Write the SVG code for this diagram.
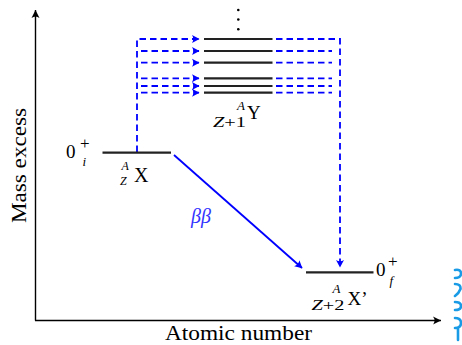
<svg xmlns="http://www.w3.org/2000/svg" width="462" height="345" viewBox="0 0 462 345">
<style>
.axis{stroke:#000;stroke-width:1.4;fill:none}
.lvl{stroke:#222;stroke-width:2.2;fill:none}
.dash{stroke:#0000ff;stroke-width:1.8;fill:none;stroke-dasharray:6.5 4}
.t{font-family:"Liberation Serif","Times New Roman",serif;fill:#000}
.it{font-style:italic}
.wm{stroke:#1a9be6;stroke-width:2.6;fill:none;stroke-linecap:round}
</style>
<defs>
<marker id="ax" viewBox="-10 -5 11 10" refX="0" refY="0" markerWidth="11" markerHeight="10" markerUnits="userSpaceOnUse" orient="auto">
<path d="M0,0 L-8,-4 Q-5,0 -8,4 Z" fill="#000"/>
</marker>
<marker id="bl" viewBox="-10 -5 11 10" refX="0" refY="0" markerWidth="11" markerHeight="10" markerUnits="userSpaceOnUse" orient="auto">
<path d="M0.5,0 L-7,-4 Q-4.5,0 -7,4 Z" fill="#0000ff"/>
</marker>
</defs>

<g id="axes">
<path class="axis" d="M35.5,320.5 V10" marker-end="url(#ax)"/>
<path class="axis" d="M35,320.5 H441" marker-end="url(#ax)"/>
<text class="t" font-size="20" textLength="147" lengthAdjust="spacingAndGlyphs" x="165" y="340">Atomic number</text>
<text class="t" font-size="21" textLength="115" lengthAdjust="spacingAndGlyphs" transform="translate(26,223) rotate(-90)">Mass excess</text>
</g>

<g id="connectors">
<path class="dash" d="M137,152 V39 H199" marker-end="url(#bl)"/>
<path class="dash" d="M141,51 H199" marker-end="url(#bl)"/>
<path class="dash" d="M141,62.7 H199" marker-end="url(#bl)"/>
<path class="dash" d="M141,78.3 H199" marker-end="url(#bl)"/>
<path class="dash" d="M141,86 H199" marker-end="url(#bl)"/>
<path class="dash" d="M141,92.7 H199" marker-end="url(#bl)"/>
<path class="dash" d="M276,39 H340 V267" marker-end="url(#bl)"/>
<path class="dash" d="M276,51 H332"/>
<path class="dash" d="M276,62.7 H332"/>
<path class="dash" d="M276,78.3 H332"/>
<path class="dash" d="M276,86 H332"/>
<path class="dash" d="M276,92.7 H332"/>
<path d="M174,155 L302,268" stroke="#0000ff" stroke-width="1.8" fill="none" marker-end="url(#bl)"/>
<text class="t it" font-size="20" x="191" y="223" style="fill:#3333ff">ββ</text>
</g>

<g id="initial">
<path class="lvl" d="M102.5,152.7 H171"/>
<text class="t" font-size="19" x="66" y="158">0</text>
<text class="t" font-size="17" x="80" y="149">+</text>
<text class="t it" font-size="13" x="82.5" y="166">i</text>
<text class="t it" font-size="12" x="121.5" y="170">A</text>
<text class="t it" font-size="12" x="120" y="185">Z</text>
<text class="t" font-size="20" x="134" y="182">X</text>
</g>

<g id="intermediate">
<path class="lvl" d="M204,39 H272.5 M204,51 H272.5 M204,62.7 H272.5 M204,78.3 H272.5 M204,86 H272.5 M204,92.7 H272.5"/>
<circle cx="238.3" cy="10" r="1.3" fill="#000"/>
<circle cx="238.3" cy="19.5" r="1.3" fill="#000"/>
<circle cx="238.3" cy="29.2" r="1.3" fill="#000"/>
<text class="t" font-size="15" x="213" y="126.5" textLength="33" lengthAdjust="spacingAndGlyphs"><tspan class="it">Z</tspan>+1</text>
<text class="t it" font-size="13" x="237" y="109.5">A</text>
<text class="t" font-size="19" x="247" y="119.3">Y</text>
</g>

<g id="final">
<path class="lvl" d="M306,272.3 H373.5"/>
<text class="t" font-size="19" x="376" y="276.3">0</text>
<text class="t" font-size="17" x="388" y="267">+</text>
<text class="t it" font-size="13" x="389.5" y="285">f</text>
<text class="t" font-size="15" x="311.5" y="309.5" textLength="33" lengthAdjust="spacingAndGlyphs"><tspan class="it">Z</tspan>+2</text>
<text class="t it" font-size="13" x="332.5" y="292.5">A</text>
<text class="t" font-size="19" x="347.5" y="305">X’</text>
</g>

<g id="watermark">
<path class="wm" d="M455,270 Q461,269 461,273.5 Q461,278 455,278"/>
<path class="wm" d="M455,284 Q461,284 460.5,289 Q459,293 455,296"/>
<path class="wm" d="M455,302 Q461,302 461,306 Q461,310 455,310"/>
<path class="wm" d="M455,318 Q461,318 461,323 Q461,328 455,328 M458,328 V340"/>
</g>
</svg>
